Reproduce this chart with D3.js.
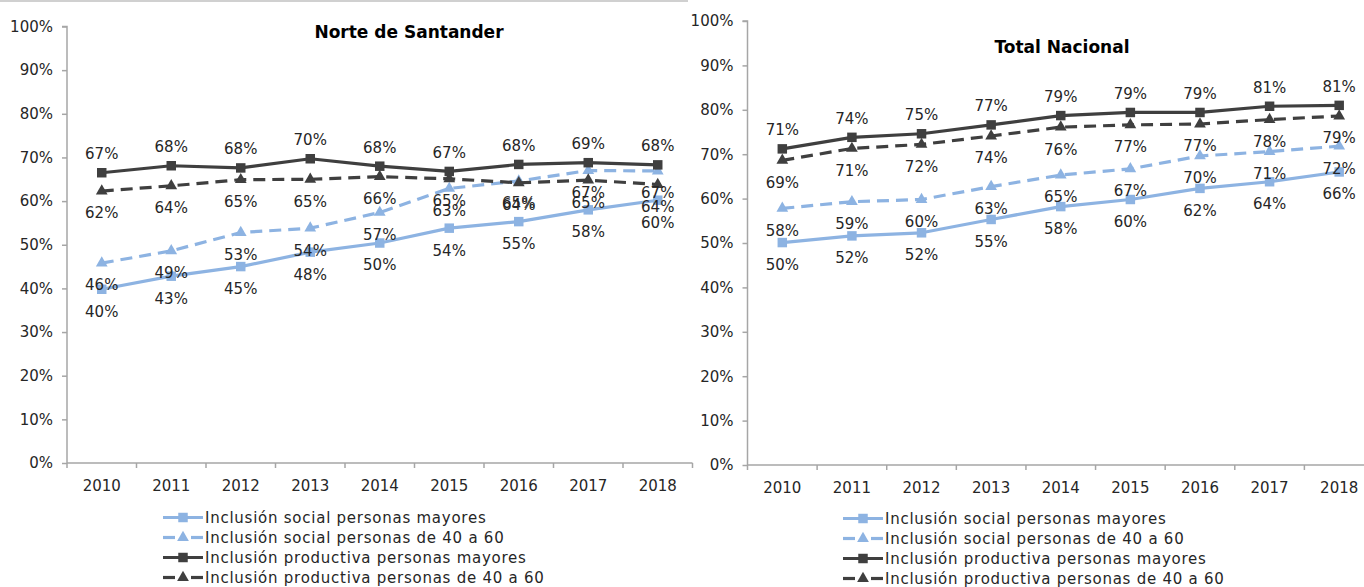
<!DOCTYPE html>
<html>
<head>
<meta charset="utf-8">
<script src="https://cdn.jsdelivr.net/npm/d3@7"></script>
<style>
  html, body { margin: 0; padding: 0; background: #ffffff; }
  svg { display: block; }
  text { font-family: "DejaVu Sans", sans-serif; }
</style>
</head>
<body>
<svg id="chart" width="1364" height="587"></svg>
<script>
// ---------- DATA ----------
const years = ["2010", "2011", "2012", "2013", "2014", "2015", "2016", "2017", "2018"];
const seriesNames = [
  "Inclusión social personas mayores",
  "Inclusión social personas de 40 a 60",
  "Inclusión productiva personas mayores",
  "Inclusión productiva personas de 40 a 60"
];
const yTickValues = [0, 10, 20, 30, 40, 50, 60, 70, 80, 90, 100];
const panelTitles = ["Norte de Santander", "Total Nacional"];

// Norte de Santander (percent)
const nsSocialMayores     = [39.8, 42.8, 45.0, 48.3, 50.4, 53.8, 55.3, 58.0, 60.2];
const nsSocial4060        = [45.8, 48.6, 52.8, 53.8, 57.4, 62.9, 64.6, 67.0, 66.9];
const nsProductivaMayores = [66.5, 68.1, 67.6, 69.7, 68.0, 66.8, 68.4, 68.8, 68.3];
const nsProductiva4060    = [62.3, 63.5, 64.9, 65.0, 65.6, 65.1, 64.2, 64.8, 63.8];

// Total Nacional (percent)
const tnSocialMayores     = [50.1, 51.6, 52.3, 55.3, 58.2, 59.8, 62.3, 63.8, 66.0];
const tnSocial4060        = [57.8, 59.3, 59.8, 62.7, 65.3, 66.7, 69.6, 70.6, 71.8];
const tnProductivaMayores = [71.2, 73.8, 74.6, 76.6, 78.7, 79.4, 79.4, 80.8, 81.0];
const tnProductiva4060    = [68.6, 71.3, 72.2, 74.1, 76.1, 76.6, 76.8, 77.8, 78.6];

// ---------- STYLES ----------
const LIGHT = "#8db3e2";
const DARK = "#3f3f3f";
const AXIS = "#a6a6a6";
const TEXT = "#262626";
const seriesStyles = [
  { color: LIGHT, dash: null, marker: "square", labelPos: "below" },
  { color: LIGHT, dash: "12,7", marker: "triangle", labelPos: "below" },
  { color: DARK, dash: null, marker: "square", labelPos: "above" },
  { color: DARK, dash: "12,7", marker: "triangle", labelPos: "below" }
];

const svg = d3.select("#chart");

// top border of left chart
svg.append("line").attr("x1", 0).attr("x2", 688).attr("y1", 1).attr("y2", 1)
  .attr("stroke", "#d0d0d0").attr("stroke-width", 2);

const panels = [
  { title: panelTitles[0], data: [nsSocialMayores, nsSocial4060, nsProductivaMayores, nsProductiva4060],
    x0: 67, x1: 692.5, y0: 463, y1: 26.5, titleX: 409, titleY: 38, legendX: 163, legendY: 517.5, xLabelY: 491 },
  { title: panelTitles[1], data: [tnSocialMayores, tnSocial4060, tnProductivaMayores, tnProductiva4060],
    x0: 747.5, x1: 1374, y0: 465, y1: 21, titleX: 1062, titleY: 53, legendX: 843, legendY: 518.5, xLabelY: 493 }
];

function markerPath(type, size) {
  return d3.symbol().type(type === "square" ? d3.symbolSquare : d3.symbolTriangle).size(size)();
}

panels.forEach(p => {
  const g = svg.append("g");
  const x = d3.scaleBand().domain(years).range([p.x0, p.x1]).padding(0);
  const y = d3.scaleLinear().domain([0, 100]).range([p.y0, p.y1]);
  const cx = d => x(d) + x.bandwidth() / 2;

  // Y axis
  const yAxis = d3.axisLeft(y).tickValues(yTickValues).tickFormat(d => d + "%").tickSize(5).tickPadding(9);
  const ya = g.append("g").attr("transform", `translate(${p.x0},0)`).call(yAxis);
  ya.select(".domain").attr("stroke", AXIS).attr("stroke-width", 1.5).attr("d", `M-5,${p.y1}H0V${p.y0}`);
  ya.selectAll(".tick line").attr("stroke", AXIS).attr("stroke-width", 1.5);
  ya.selectAll(".tick text").attr("fill", TEXT).style("font-size", "15px").style("font-family", "DejaVu Sans");

  // X axis with ticks at band boundaries
  const xa = g.append("g").attr("transform", `translate(0,${p.y0})`);
  xa.append("line").attr("x1", p.x0).attr("x2", p.x1).attr("y1", 0).attr("y2", 0)
    .attr("stroke", AXIS).attr("stroke-width", 1.5);
  xa.selectAll("line.tk").data(years.concat(["end"])).join("line").attr("class", "tk")
    .attr("x1", (d, i) => i < years.length ? x(d) : p.x1)
    .attr("x2", (d, i) => i < years.length ? x(d) : p.x1)
    .attr("y1", 0).attr("y2", 5).attr("stroke", AXIS).attr("stroke-width", 1.5);
  xa.selectAll("text").data(years).join("text")
    .attr("x", d => cx(d)).attr("y", p.xLabelY - p.y0)
    .attr("text-anchor", "middle").attr("fill", TEXT).style("font-size", "15px").text(d => d);

  // Title
  g.append("text").attr("x", p.titleX).attr("y", p.titleY).attr("text-anchor", "middle")
    .attr("fill", "#000").style("font-size", "17px").style("font-weight", "bold").text(p.title);

  // Lines + markers
  p.data.forEach((vals, si) => {
    const st = seriesStyles[si];
    const line = d3.line().x((d, i) => cx(years[i])).y(d => y(d));
    g.append("path").datum(vals).attr("d", line).attr("fill", "none")
      .attr("stroke", st.color).attr("stroke-width", 3.2)
      .attr("stroke-dasharray", st.dash).attr("stroke-linejoin", "round");
    g.selectAll(null).data(vals).join("path")
      .attr("d", markerPath(st.marker, st.marker === "square" ? 90 : 60))
      .attr("transform", (d, i) => `translate(${cx(years[i])},${y(d)})`)
      .attr("fill", st.color);
  });

  // Labels
  p.data.forEach((vals, si) => {
    const st = seriesStyles[si];
    g.selectAll(null).data(vals).join("text")
      .attr("x", (d, i) => cx(years[i]))
      .attr("y", d => y(d) + (st.labelPos === "above" ? -19 : 22))
      .attr("dy", "0.36em")
      .attr("text-anchor", "middle").attr("fill", TEXT).style("font-size", "15px")
      .text(d => Math.round(d) + "%");
  });

  // Legend
  const lg = g.append("g").attr("transform", `translate(${p.legendX},${p.legendY})`);
  seriesNames.forEach((name, si) => {
    const st = seriesStyles[si];
    const row = lg.append("g").attr("transform", `translate(0,${si * 20})`);
    if (st.dash) {
      row.append("line").attr("x1", 0).attr("x2", 12).attr("y1", 0).attr("y2", 0)
        .attr("stroke", st.color).attr("stroke-width", 3.2);
      row.append("line").attr("x1", 28).attr("x2", 40).attr("y1", 0).attr("y2", 0)
        .attr("stroke", st.color).attr("stroke-width", 3.2);
    } else {
      row.append("line").attr("x1", 0).attr("x2", 40).attr("y1", 0).attr("y2", 0)
        .attr("stroke", st.color).attr("stroke-width", 3.2);
    }
    row.append("path").attr("d", markerPath(st.marker, st.marker === "square" ? 90 : 60))
      .attr("transform", "translate(20,0)").attr("fill", st.color);
    row.append("text").attr("x", 42).attr("y", 0).attr("dy", "0.34em")
      .attr("fill", TEXT).style("font-size", "15px").style("letter-spacing", "0.75px").text(name);
  });
});
</script>
</body>
</html>
